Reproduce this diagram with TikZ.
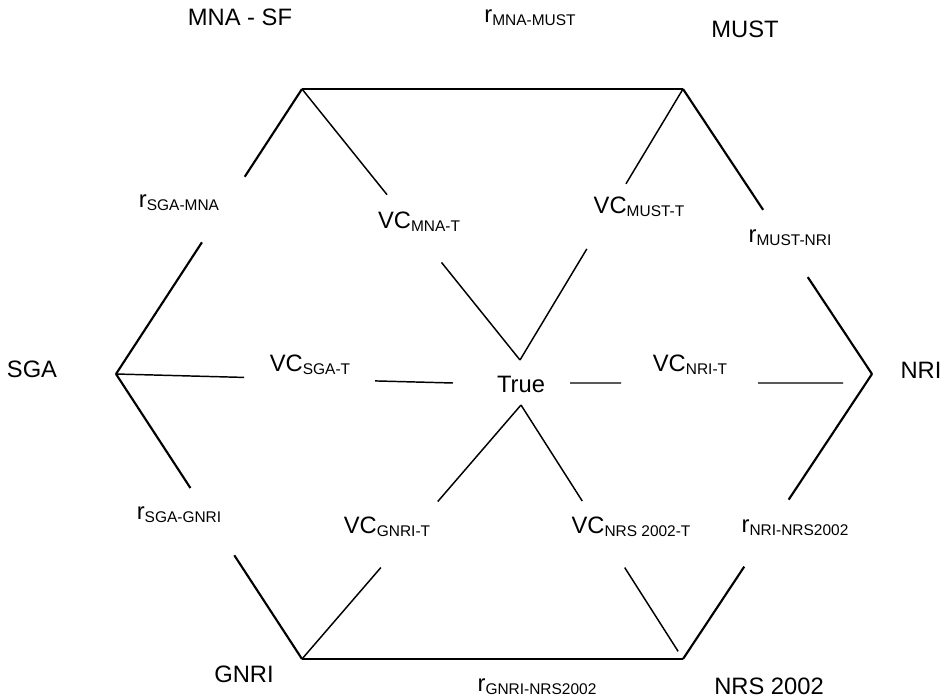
\documentclass[tikz,border=0pt]{standalone}
\usepackage{fontspec}
\setmainfont{Liberation Sans}
\usetikzlibrary{calc}
\newcommand{\lsub}[1]{\raisebox{-2.2pt}{\fontsize{11.6}{13}\selectfont #1}}
\begin{document}
\begin{tikzpicture}[x=0.75pt,y=-0.75pt,
  lbl/.style={inner sep=0pt, font=\fontsize{17.8}{20}\selectfont},
  outer/.style={line width=1.6pt},
  inner/.style={line width=1.1pt}]
\useasboundingbox (0,0) rectangle (940,699);
% hexagon vertices
\coordinate (vMNA) at (302,89);
\coordinate (vMUST) at (683,89);
\coordinate (vSGA) at (116,374);
\coordinate (vNRI) at (872,374);
\coordinate (vGNRI) at (302,659);
\coordinate (vNRS) at (683,659);
% centre node and its connection points
\node[lbl] (true) at (521,384) {True};
\coordinate (tT) at (520,360);
\coordinate (tB) at (521,405);
\coordinate (tL) at (453,383);
\coordinate (tR) at (570,383);
\coordinate (nL) at (843,383);
% labels
\node[lbl] (lMNA) at (240,17) {MNA - SF};
\node[lbl] (lMUST) at (745,29) {MUST};
\node[lbl] (lSGA) at (32,369) {SGA};
\node[lbl] (lNRI) at (921,370) {NRI};
\node[lbl] (lGNRI) at (244,674) {GNRI};
\node[lbl] (lNRS) at (769,686) {NRS 2002};
\node[lbl] (rMNAMUST) at (530,18) {r\lsub{MNA-MUST}};
\node[lbl] (rSGAMNA) at (179,203) {r\lsub{SGA-MNA}};
\node[lbl] (rMUSTNRI) at (790,238) {r\lsub{MUST-NRI}};
\node[lbl] (rSGAGNRI) at (179,515) {r\lsub{SGA-GNRI}};
\node[lbl] (rNRINRS) at (795,528) {r\lsub{NRI-NRS2002}};
\node[lbl] (rGNRINRS) at (537,687) {r\lsub{GNRI-NRS2002}};
\node[lbl] (vcMNA) at (419,222) {VC\lsub{MNA-T}};
\node[lbl] (vcMUST) at (639,207) {VC\lsub{MUST-T}};
\node[lbl] (vcSGA) at (310,365) {VC\lsub{SGA-T}};
\node[lbl] (vcNRI) at (690,365) {VC\lsub{NRI-T}};
\node[lbl] (vcGNRI) at (387,527) {VC\lsub{GNRI-T}};
\node[lbl] (vcNRS) at (631,527) {VC\lsub{NRS 2002-T}};
% hexagon sides
\draw[outer] (vMNA) -- (vMUST);
\draw[outer] (vGNRI) -- (vNRS);
\draw[outer] (vMNA) -- ($(vMNA)!0.308!(vSGA)$) ($(vMNA)!0.538!(vSGA)$) -- (vSGA);
\draw[outer] (vMUST) -- ($(vMUST)!0.424!(vNRI)$) ($(vMUST)!0.66!(vNRI)$) -- (vNRI);
\draw[outer] (vSGA) -- ($(vSGA)!0.40!(vGNRI)$) ($(vSGA)!0.636!(vGNRI)$) -- (vGNRI);
\draw[outer] (vNRI) -- ($(vNRI)!0.441!(vNRS)$) ($(vNRI)!0.676!(vNRS)$) -- (vNRS);
% spokes to True
\draw[inner] (vMNA) -- ($(vMNA)!0.39!(tT)$) ($(vMNA)!0.64!(tT)$) -- (tT);
\draw[inner] (vMUST) -- ($(vMUST)!0.35!(tT)$) ($(vMUST)!0.59!(tT)$) -- (tT);
\draw[inner] (vSGA) -- ($(vSGA)!0.38!(tL)$) ($(vSGA)!0.769!(tL)$) -- (tL);
\draw[inner] (tR) -- ($(tR)!0.187!(nL)$) ($(tR)!0.689!(nL)$) -- (nL);
\draw[inner] (vGNRI) -- ($(vGNRI)!0.36!(tB)$) ($(vGNRI)!0.62!(tB)$) -- (tB);
\draw[inner] (tB) -- ($(tB)!0.378!(vNRS)$) ($(tB)!0.64!(vNRS)$) -- ($(tB)!0.97!(vNRS)$);
\end{tikzpicture}
\end{document}
